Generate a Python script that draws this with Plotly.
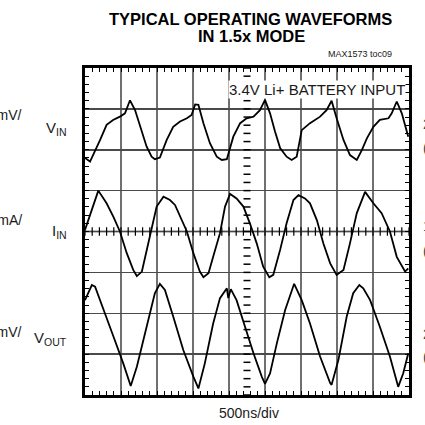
import numpy as np
import plotly.graph_objects as go

# ---- data (time in divisions of 500ns, amplitude in screen divisions) ----
vin_t = [0, 0.14, 0.42, 0.60, 0.78, 0.97, 1.11, 1.25, 1.39, 1.53, 1.71, 1.85, 1.94, 2.08, 2.27, 2.45, 2.64, 2.83, 2.96, 3.06,
         3.15, 3.29, 3.47, 3.66, 3.80, 3.94, 4.12, 4.31, 4.49, 4.68, 4.86, 5.00, 5.14, 5.28, 5.42, 5.60, 5.74, 5.88, 6.02, 6.25,
         6.53, 6.71, 6.85, 6.99, 7.18, 7.36, 7.55, 7.69, 7.83, 8.01, 8.19, 8.43, 8.52, 8.66, 8.80, 8.98]
vin_v = [5.80, 5.71, 6.24, 6.61, 6.73, 6.81, 6.89, 7.21, 6.97, 6.56, 6.08, 5.83, 5.77, 5.81, 6.24, 6.56, 6.69, 6.77, 6.85, 7.11,
         7.10, 6.65, 6.16, 5.83, 5.75, 5.77, 6.32, 6.65, 6.77, 6.81, 6.97, 7.22, 6.89, 6.44, 6.04, 5.83, 5.75, 5.83, 6.48, 6.65,
         6.81, 6.97, 7.20, 6.77, 6.24, 5.87, 5.75, 5.99, 6.28, 6.56, 6.73, 6.77, 6.89, 7.18, 6.89, 6.32]

iin_t = [0, 0.37, 0.60, 0.79, 0.97, 1.16, 1.34, 1.44, 1.58, 1.71, 1.85, 1.99, 2.18, 2.36, 2.50, 2.64, 2.83, 3.01, 3.19, 3.29,
         3.43, 3.56, 3.75, 3.89, 4.03, 4.21, 4.40, 4.58, 4.77, 4.95, 5.12, 5.23, 5.42, 5.60, 5.79, 5.93, 6.11, 6.25, 6.44, 6.62,
         6.81, 6.99, 7.18, 7.36, 7.55, 7.78, 8.01, 8.24, 8.47, 8.66, 8.89, 8.98]
iin_v = [4.04, 5.00, 4.69, 4.36, 4.00, 3.47, 3.06, 2.91, 3.02, 3.55, 4.04, 4.61, 4.85, 4.77, 4.65, 4.36, 4.00, 3.47, 3.02, 2.88,
         2.98, 3.38, 3.96, 4.61, 4.92, 4.81, 4.61, 4.20, 3.71, 3.14, 2.88, 2.94, 3.55, 4.20, 4.77, 4.89, 4.81, 4.69, 4.28, 3.71,
         3.22, 2.94, 3.06, 3.71, 4.45, 4.97, 4.69, 4.45, 4.00, 3.38, 3.02, 3.10]

vout_t = [0, 0.19, 0.28, 0.51, 0.79, 1.06, 1.27, 1.44, 1.62, 1.81, 1.94, 2.08, 2.22, 2.45, 2.73, 3.01, 3.15, 3.33, 3.56, 3.75,
          3.94, 3.98, 4.05, 4.21, 4.44, 4.68, 4.91, 5.00, 5.14, 5.33, 5.56, 5.81, 6.02, 6.25, 6.53, 6.81, 6.85, 7.04, 7.27, 7.45,
          7.62, 7.73, 7.92, 8.19, 8.47, 8.70, 8.84, 8.98]
vout_v = [2.32, 2.69, 2.65, 2.08, 1.43, 0.78, 0.22, 0.69, 1.35, 2.08, 2.49, 2.72, 2.57, 1.92, 1.10, 0.45, 0.16, 0.78, 1.75, 2.37,
          2.61, 2.37, 2.59, 2.32, 1.67, 1.02, 0.45, 0.27, 0.53, 1.27, 2.08, 2.72, 2.32, 1.75, 0.94, 0.29, 0.25, 0.86, 1.92, 2.49,
          2.69, 2.61, 2.32, 1.67, 0.94, 0.20, 0.53, 1.02]

title_lines = ["TYPICAL OPERATING WAVEFORMS", "IN 1.5x MODE"]
fig_id = "MAX1573 toc09"
inset_label = "3.4V Li+ BATTERY INPUT"
x_label = "500ns/div"
channel_names = ["V<sub>IN</sub>", "I<sub>IN</sub>", "V<sub>OUT</sub>"]
left_scales = ["20mV/", "100mA/", "20mV/"]
right_scales = [("20mV/div", "(AC-COUPLED)"), ("100mA/div", "(AC-COUPLED)"), ("20mV/div", "(AC-COUPLED)")]

N_XDIV, N_YDIV = 9, 8

# ---- layout geometry (pixels) ----
W = H = 425
L, R, T, B = 85, 409, 68, 395


def P(px, py):
    return (px - L) / (R - L), (B - py) / (B - T)


SANS = "Liberation Sans, Arial, sans-serif"
TXT = "#1a1a1a"

fig = go.Figure()

# center graticule tick marks
xt = np.arange(0, N_XDIV + 0.001, 0.2)
fig.add_trace(go.Scatter(x=xt, y=[N_YDIV / 2] * len(xt),
                         mode="markers", marker=dict(symbol="line-ns", size=6, color="black",
                                                     line=dict(width=1.2, color="black")),
                         hoverinfo="skip", showlegend=False))
yt = np.arange(0, N_YDIV + 0.001, 0.2)
fig.add_trace(go.Scatter(x=[N_XDIV / 2] * len(yt), y=yt,
                         mode="markers", marker=dict(symbol="line-ew", size=5, color="black",
                                                     line=dict(width=1.5, color="black")),
                         hoverinfo="skip", showlegend=False))

for t, v in [(vin_t, vin_v), (iin_t, iin_v), (vout_t, vout_v)]:
    fig.add_trace(go.Scatter(x=t, y=v, mode="lines", line=dict(color="black", width=1.8),
                             hoverinfo="skip", showlegend=False))

fig.add_shape(type="line", x0=0, x1=N_XDIV, y0=N_YDIV / 2, y1=N_YDIV / 2,
              line=dict(color="black", width=1.6), layer="below")

axis_common = dict(showgrid=True, showline=True, linewidth=3.2,
                   linecolor="black", mirror="ticks", ticks="inside", ticklen=4, tickwidth=1,
                   tickcolor="black", showticklabels=False, zeroline=False, fixedrange=True,
                   minor=dict(dtick=0.2, ticks="inside", ticklen=4, tickwidth=1, tickcolor="black", showgrid=False))
fig.update_xaxes(range=[0, N_XDIV], dtick=1, gridcolor="#707070", gridwidth=1.2, **axis_common)
fig.update_yaxes(range=[0, N_YDIV], dtick=1, gridcolor="#4a4a4a", gridwidth=1.5, **axis_common)

ann = []


def add_text(text, px, py, size, xanchor="center", font=SANS, color=TXT, bold=False, **kw):
    x, y = P(px, py)
    ann.append(dict(text=f"<b>{text}</b>" if bold else text, x=x, y=y, xref="paper", yref="paper",
                    xanchor=xanchor, yanchor="middle", showarrow=False,
                    font=dict(family=font, size=size, color=color), **kw))


add_text(title_lines[0], 250, 19, 16.5, color="black", bold=True)
add_text(title_lines[1], 251, 36, 16.5, color="black", bold=True)
add_text(fig_id, 394, 54, 9, xanchor="right")
add_text(inset_label, 406, 90, 15, xanchor="right", bgcolor="white", borderpad=0)
add_text(x_label, 249, 413, 14)

chan_y = [128, 231, 338]
lscale_y = [115, 220, 332]
rscale_y = [(124, 148), (226, 251), (334, 357)]
for name, cy in zip(channel_names, chan_y):
    add_text(name, 69, cy, 15, xanchor="right")
for s, ly in zip(left_scales, lscale_y):
    add_text(s, 24, ly, 14, xanchor="right")
for (a, b), (y1, y2) in zip(right_scales, rscale_y):
    add_text(a, 421, y1, 14, xanchor="left", color="#444444")
    add_text(b, 421, y2, 14, xanchor="left", color="#444444")

fig.update_layout(width=W, height=H, margin=dict(l=L, r=W - R, t=T, b=H - B),
                  paper_bgcolor="white", plot_bgcolor="white", annotations=ann, showlegend=False)

fig.write_html("out.html", config={"displayModeBar": False, "staticPlot": True},
               post_script="document.body.style.margin='0';document.body.style.overflow='hidden';")
